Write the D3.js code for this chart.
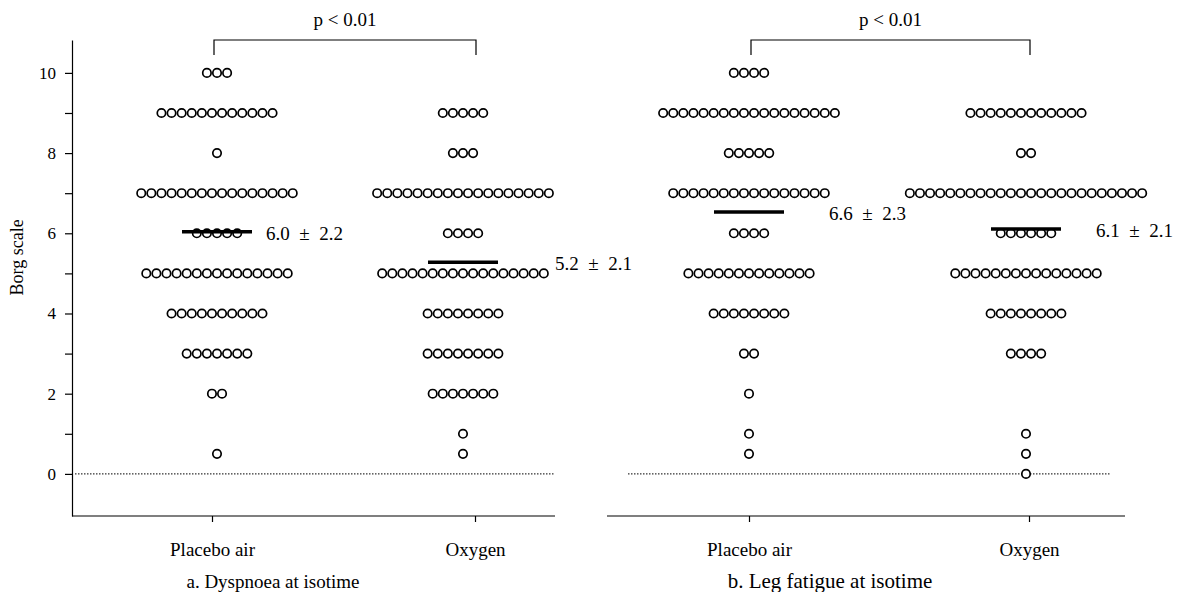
<!DOCTYPE html>
<html>
<head>
<meta charset="utf-8">
<script src="https://cdn.jsdelivr.net/npm/d3@7"></script>
<style>
  body { margin: 0; background: #fff; }
  svg text { font-family: "Liberation Serif", "DejaVu Serif", serif; fill: #000; }
</style>
</head>
<body>
<div id="chart"></div>
<script>
// Borg levels (rows of the dot plot) and how many subjects sit on each row
const borgLevels = [10, 9, 8, 7, 6, 5, 4, 3, 2, 1, 0.5, 0];
const dyspPlacebo = [3, 12, 1, 16, 5, 15, 10, 7, 2, 0, 1, 0];
const dyspOxygen  = [0, 5, 3, 18, 4, 17, 8, 8, 7, 1, 1, 0];
const legPlacebo  = [4, 18, 5, 16, 4, 13, 8, 2, 1, 1, 1, 0];
const legOxygen   = [0, 12, 2, 24, 6, 15, 8, 4, 0, 1, 1, 1];

const groups = ["Placebo air", "Oxygen"];
// mean bar height as drawn, and the printed mean ± sd
const meanBars = [6.04, 5.28, 6.53, 6.11];
const meanLabels = ["6.0\u2002\u00b1\u20022.2", "5.2\u2002\u00b1\u20022.1", "6.6\u2002\u00b1\u20022.3", "6.1\u2002\u00b1\u20022.1"];
const pLabels = ["p < 0.01", "p < 0.01"];
const captions = ["a. Dyspnoea at isotime", "b. Leg fatigue at isotime"];
const yTicks = [0, 1, 2, 3, 4, 5, 6, 7, 8, 9, 10];

const width = 1192, height = 592;
const svg = d3.select('#chart').append('svg')
  .attr('width', width).attr('height', height);

const y = d3.scaleLinear().domain([-1.05, 10.82]).range([516, 40]);

// panel layout
const panels = [
  { series: [dyspPlacebo, dyspOxygen], ticks: [212, 475], left: 72, right: 555,
    zero: [75, 555], shift: [5, -12], labelDx: [49, 92], caption: 273, capSize: 19 },
  { series: [legPlacebo, legOxygen], ticks: [749, 1029], left: 607, right: 1125,
    zero: [628, 1110], shift: [0, -3], labelDx: [80, 70], caption: 830, capSize: 21 }
];

const r = 4.2, gap = 10.1;

// y axis on the left panel only
const yAxis = svg.append('g')
  .attr('transform', 'translate(72,0)')
  .call(d3.axisLeft(y).tickValues(yTicks).tickSize(7).tickPadding(9).tickSizeOuter(0)
    .tickFormat(d => d % 2 === 0 ? d : ''));
yAxis.selectAll('text').style('font-size', '17px');
yAxis.selectAll('line, path').attr('stroke', '#000').attr('stroke-width', 1.2);

svg.append('text')
  .attr('transform', `translate(23,${y(5.4)}) rotate(-90)`)
  .attr('text-anchor', 'middle')
  .style('font-size', '18px')
  .text('Borg scale');

panels.forEach((p, pi) => {
  const g = svg.append('g');
  const x = d3.scalePoint().domain(groups).range(p.ticks);

  // baseline and category ticks
  const xAxis = g.append('g')
    .attr('transform', 'translate(0,516)')
    .call(d3.axisBottom(x).tickSize(6).tickPadding(21));
  xAxis.select('.domain').remove();
  xAxis.selectAll('line').attr('stroke', '#000').attr('stroke-width', 1.2);
  xAxis.selectAll('text').style('font-size', '19px');
  g.append('line')
    .attr('x1', p.left).attr('x2', p.right)
    .attr('y1', 516).attr('y2', 516)
    .attr('stroke', '#000').attr('stroke-width', 1.2);

  // dotted zero line
  g.append('line')
    .attr('x1', p.zero[0]).attr('x2', p.zero[1])
    .attr('y1', y(0)).attr('y2', y(0))
    .attr('stroke', '#000').attr('stroke-width', 1)
    .attr('stroke-dasharray', '1.5,1.5');

  p.series.forEach((counts, gi) => {
    const cx = x(groups[gi]) + p.shift[gi];
    const dots = [];
    counts.forEach((n, li) => {
      for (let i = 0; i < n; i++) {
        dots.push({ v: borgLevels[li], off: (i - (n - 1) / 2) * gap });
      }
    });
    g.selectAll(null)
      .data(dots)
      .enter()
      .append('circle')
      .attr('cx', d => cx + d.off)
      .attr('cy', d => y(d.v))
      .attr('r', r)
      .attr('fill', '#fff')
      .attr('stroke', '#000')
      .attr('stroke-width', 1.7);

    const k = pi * 2 + gi;
    g.append('line')
      .attr('x1', cx - 35).attr('x2', cx + 35)
      .attr('y1', y(meanBars[k])).attr('y2', y(meanBars[k]))
      .attr('stroke', '#000').attr('stroke-width', 3.5);
    g.append('text')
      .attr('x', cx + p.labelDx[gi])
      .attr('y', y(meanBars[k]) + 8)
      .style('font-size', '19px')
      .text(meanLabels[k]);
  });

  // significance bracket
  const bx0 = x(groups[0]) + 2, bx1 = x(groups[1]) + 1;
  g.append('path')
    .attr('d', `M${bx0},55V40H${bx1}V55`)
    .attr('fill', 'none').attr('stroke', '#000').attr('stroke-width', 1.2);
  g.append('text')
    .attr('x', (bx0 + bx1) / 2).attr('y', 26)
    .attr('text-anchor', 'middle')
    .style('font-size', '19px')
    .text(pLabels[pi]);

  g.append('text')
    .attr('x', p.caption).attr('y', 588)
    .attr('text-anchor', 'middle')
    .style('font-size', p.capSize + 'px')
    .text(captions[pi]);
});
</script>
</body>
</html>
